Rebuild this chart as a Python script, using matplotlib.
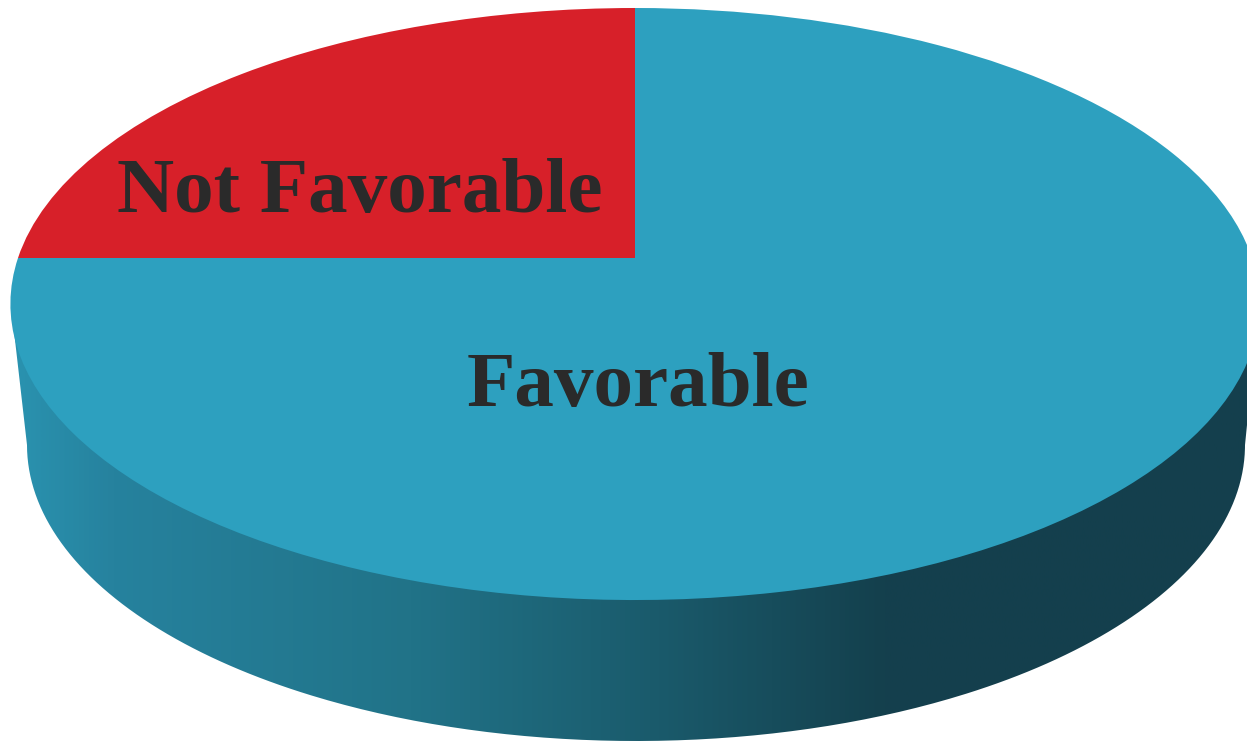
import numpy as np
import matplotlib
matplotlib.use("Agg")
import matplotlib.pyplot as plt
from matplotlib.colors import LinearSegmentedColormap
from matplotlib.patches import PathPatch
from matplotlib.path import Path
from matplotlib.transforms import Transform

labels = ["Not Favorable", "Favorable"]
shares = [25, 75]
slice_colors = ["#d72029", "#2da0bf"]
text_color = "#2a2a2a"

W, H = 1247, 741
CX, RX = 635, 617
Y0, A, C = 258, -248.76, 0.1554


class DiscProjection(Transform):
    # tilts the unit pie into pixel coords, near edge looks bigger
    input_dims = 2
    output_dims = 2
    is_separable = False
    has_inverse = False

    def transform_non_affine(self, values):
        u, v = np.asarray(values).T
        d = 1 + C * v
        return np.column_stack([CX + RX * u / d, (A * v + Y0) / d])


fig = plt.figure(figsize=(W / 100, H / 100), dpi=100)
ax = fig.add_axes([0, 0, 1, 1])

wedges, _ = ax.pie(shares, colors=slice_colors, startangle=90, counterclock=True)
for w in wedges:
    w.set_transform(DiscProjection() + ax.transData)
    w.set_edgecolor("none")
    w.set_zorder(3)

ax.set_xlim(0, W)
ax.set_ylim(H, 0)
ax.set_aspect("auto")
ax.axis("off")

# side wall: lower rim joined to the widest points of the top disc
t = np.linspace(np.pi, 0, 300)
rim_x = 636 + 609 * np.cos(t)
rim_y = 445 + 296 * np.sin(t)
wall = np.column_stack([
    np.r_[11, rim_x, 1259, 11],
    np.r_[305, rim_y, 305, 305],
])
wall_patch = PathPatch(Path(wall), facecolor="none", edgecolor="none", transform=ax.transData)
ax.add_patch(wall_patch)

wall_cmap = LinearSegmentedColormap.from_list(
    "wall",
    [(0.0, "#2a93b0"), (0.08, "#26829e"), (0.32, "#217388"),
     (0.52, "#1a5a6b"), (0.70, "#14404d"), (1.0, "#143f4d")],
)
img = ax.imshow(np.linspace(0, 1, 512)[None, :], cmap=wall_cmap, extent=[11, 1259, H, 300],
                aspect="auto", zorder=1)
img.set_clip_path(wall_patch)
ax.set_xlim(0, W)
ax.set_ylim(H, 0)

font = ["Liberation Serif", "DejaVu Serif"]
ax.text(360, 212, labels[0], family=font, weight="bold", fontsize=57, color=text_color,
        ha="center", va="baseline", zorder=4)
ax.text(638, 406, labels[1], family=font, weight="bold", fontsize=57, color=text_color,
        ha="center", va="baseline", zorder=4)

fig.savefig("out.png", dpi=100)
